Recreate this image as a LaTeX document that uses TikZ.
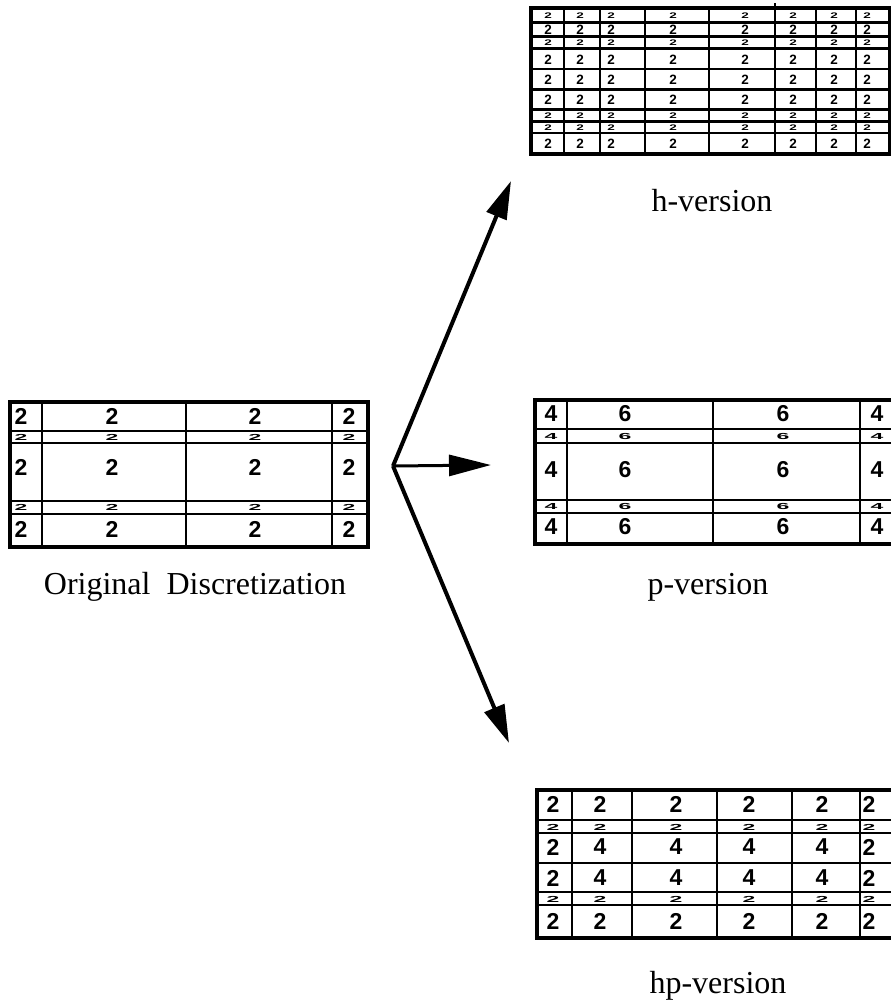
\documentclass[tikz,border=0pt]{standalone}
\usepackage{fontspec}
\usepackage{graphicx}
\setmainfont{Liberation Serif}
\newfontfamily\digitfont{Liberation Sans}
\usetikzlibrary{arrows.meta}
\newcommand\squash[1]{\scalebox{1}[0.38]{#1}}
\newcommand\halfsquash[1]{\scalebox{1}[0.6]{#1}}
\tikzset{
  meshline/.style={line width=2.5pt},
  meshframe/.style={line width=3.6pt},
  dig/.style={inner sep=0pt, font=\digitfont\bfseries\fontsize{23}{23}\selectfont},
  hdig/.style={inner sep=0pt, font=\digitfont\bfseries\fontsize{13.5}{13.5}\selectfont},
  caption/.style={inner sep=0pt, anchor=base, font=\fontsize{32}{32}\selectfont},
  branch/.style={line width=4pt, -{Triangle[length=38pt,width=21pt]}},
  midbranch/.style={line width=3pt, -{Triangle[length=42pt,width=21pt]}}
}
\begin{document}
\begin{tikzpicture}[x=1pt,y=-1pt]
\useasboundingbox (0,0) rectangle (891,1004);

% ---- original discretization ----
\foreach \x in {42,186,332} \draw[meshline] (\x,402) -- (\x,547);
\foreach \y in {431,443,501,514} \draw[meshline] (10,\y) -- (368,\y);
\draw[meshframe] (10,402) rectangle (368,547);
\foreach \x [count=\c] in {21,112,255,349} {
  \node[dig] (o-1-\c) at (\x,416) {2};
  \node[dig] (o-2-\c) at (\x,437) {\squash{2}};
  \node[dig] (o-3-\c) at (\x,467) {2};
  \node[dig] (o-4-\c) at (\x,507) {\squash{2}};
  \node[dig] (o-5-\c) at (\x,529) {2};
}
\node[caption] (olab) at (195,594) {Original\ \ Discretization};

% ---- h-version ----
\foreach \x in {564,600,645,709,775,816,856} \draw[meshline] (\x,8) -- (\x,154);
\draw[meshline] (775,3) -- (775,8);
\foreach \y in {22.5,36.5,48.5,69,89.5,109.5,121.5,133} \draw[meshline] (531,\y) -- (890,\y);
\draw[meshframe] (531,8) rectangle (890,154);
\foreach \x [count=\c] in {548,580,611,673,745,793,834,867} {
  \node[hdig] (h-1-\c) at (\x,15.5) {\halfsquash{2}};
  \node[hdig] (h-2-\c) at (\x,29.5) {2};
  \node[hdig] (h-3-\c) at (\x,42.5) {\halfsquash{2}};
  \node[hdig] (h-4-\c) at (\x,59.5) {2};
  \node[hdig] (h-5-\c) at (\x,79.5) {2};
  \node[hdig] (h-6-\c) at (\x,99.5) {2};
  \node[hdig] (h-7-\c) at (\x,115.5) {\halfsquash{2}};
  \node[hdig] (h-8-\c) at (\x,127.5) {\halfsquash{2}};
  \node[hdig] (h-9-\c) at (\x,144) {2};
}
\node[caption] (hlab) at (712,211) {h-version};

% ---- p-version ----
\foreach \x in {567,713,860} \draw[meshline] (\x,400) -- (\x,544);
\foreach \y in {429,443,500,513} \draw[meshline] (535,\y) -- (900,\y);
\draw[meshframe] (535,400) rectangle (905,544);
\foreach \x/\d [count=\c] in {551/4,625/6,783/6,877/4} {
  \node[dig] (p-1-\c) at (\x,414) {\d};
  \node[dig] (p-2-\c) at (\x,436) {\squash{\d}};
  \node[dig] (p-3-\c) at (\x,470) {\d};
  \node[dig] (p-4-\c) at (\x,506) {\squash{\d}};
  \node[dig] (p-5-\c) at (\x,527) {\d};
}
\node[caption] (plab) at (708,594) {p-version};

% ---- hp-version ----
\foreach \x in {572,632,717,792,860} \draw[meshline] (\x,790) -- (\x,938);
\foreach \y in {820,833,863,892,905} \draw[meshline] (537,\y) -- (900,\y);
\draw[meshframe] (537,790) rectangle (905,938);
\foreach \x/\d [count=\c] in {553/2,600/4,676/4,749/4,822/4,869/2} {
  \node[dig] (hp-1-\c) at (\x,804) {2};
  \node[dig] (hp-2-\c) at (\x,827) {\squash{2}};
  \node[dig] (hp-3-\c) at (\x,847) {\d};
  \node[dig] (hp-4-\c) at (\x,878) {\d};
  \node[dig] (hp-5-\c) at (\x,899) {\squash{2}};
  \node[dig] (hp-6-\c) at (\x,921) {2};
}
\node[caption] (hplab) at (718,993) {hp-version};

% ---- refinement arrows ----
\coordinate (apex) at (393,466);
\coordinate (htip) at (511,181);
\coordinate (ptip) at (491,465);
\coordinate (hptip) at (509,743);
\draw[branch] (apex) -- (htip);
\draw[branch] (apex) -- (hptip);
\draw[midbranch] (apex) -- (ptip);
\end{tikzpicture}
\end{document}
